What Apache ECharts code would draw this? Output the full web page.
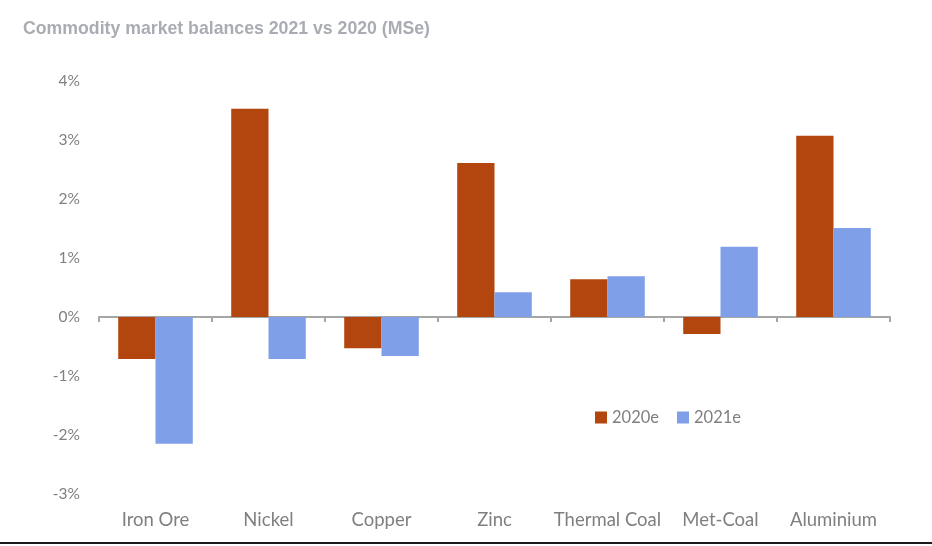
<!DOCTYPE html>
<html>
<head>
<meta charset="utf-8">
<script src="https://cdn.jsdelivr.net/npm/echarts@6/dist/echarts.min.js"></script>
<style>
html,body{margin:0;padding:0;background:#fff;}
#chart{width:932px;height:546px;}
</style>
</head>
<body>
<div id="chart"></div>
<script>
const categories = ['Iron Ore','Nickel','Copper','Zinc','Thermal Coal','Met-Coal','Aluminium'];
const values2020 = [-0.71, 3.53, -0.53, 2.61, 0.64, -0.29, 3.07];
const values2021 = [-2.15, -0.71, -0.66, 0.42, 0.69, 1.19, 1.51];
const seriesNames = ['2020e','2021e'];
const yTicks = {min:-3, max:4, interval:1};

const chart = echarts.init(document.getElementById('chart'));
chart.setOption({
  animation:false,
  backgroundColor:'#fff',
  title:{
    text:'Commodity market balances 2021 vs 2020 (MSe)',
    left:18, top:15,
    textStyle:{fontFamily:'Liberation Sans, Arial', fontSize:17.7, fontWeight:'bold', color:'#a9adb3'}
  },
  legend:{
    data:seriesNames,
    left:590, top:404,
    itemWidth:12, itemHeight:12, itemGap:18,
    icon:'rect',
    textStyle:{fontFamily:'Lato', fontSize:16.5, color:'#7f7f7f'}
  },
  grid:{left:99, right:42, top:81, bottom:52, containLabel:false},
  xAxis:{
    type:'category',
    data:categories,
    axisLine:{onZero:true, lineStyle:{color:'#a6a6a6', width:2}},
    axisTick:{show:true, length:5, lineStyle:{color:'#a6a6a6', width:2}},
    axisLabel:{interval:0, fontFamily:'Lato', fontSize:18.5, color:'#7f7f7f', margin:17},
    position:'bottom'
  },
  yAxis:{
    type:'value',
    min:yTicks.min, max:yTicks.max, interval:yTicks.interval,
    splitLine:{show:false},
    axisLine:{show:false},
    axisTick:{show:false},
    axisLabel:{formatter:'{value}%', fontFamily:'Lato', fontSize:15.5, color:'#7f7f7f', margin:19}
  },
  series:[
    {name:seriesNames[0], type:'bar', data:values2020, barWidth:'33%', barGap:'0%', itemStyle:{color:'#b3460f'}},
    {name:seriesNames[1], type:'bar', data:values2021, barWidth:'33%', barGap:'0%', itemStyle:{color:'#7f9fe9'}}
  ],
  graphic:[
    {type:'rect', shape:{x:0, y:542, width:932, height:2}, style:{fill:'#1a1a1a'}}
  ]
});
</script>
</body>
</html>
